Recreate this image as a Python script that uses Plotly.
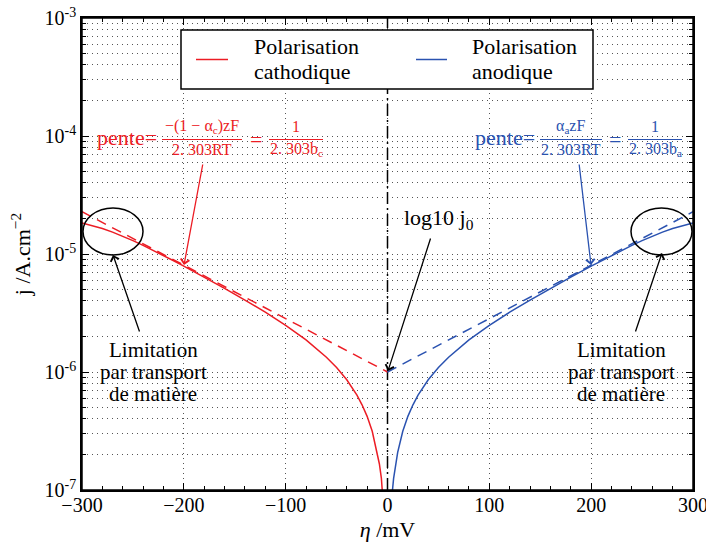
import plotly.graph_objects as go

# ---------------- data ----------------
eta_cath = [-300, -290, -280, -270, -260, -250, -240, -230, -220, -210, -200,
            -180, -160, -140, -120, -100, -80, -60, -50, -40, -30, -25, -20,
            -15, -10, -8, -6, -4, -2]
j_cath = [1.834e-5, 1.746e-5, 1.644e-5, 1.532e-5, 1.415e-5, 1.297e-5, 1.182e-5,
          1.073e-5, 9.71e-6, 8.76e-6, 7.89e-6, 6.37e-6, 5.11e-6, 4.07e-6, 3.21e-6,
          2.486e-6, 1.869e-6, 1.335e-6, 1.0915e-6, 8.59e-7, 6.367e-7, 5.274e-7,
          4.208e-7, 3.143e-7, 2.085e-7, 1.670e-7, 1.253e-7, 8.34e-8, 4.17e-8]

eta_anod = [2, 4, 6, 8, 10, 15, 20, 25, 30, 40, 50, 60, 80, 100, 120, 140, 160,
            180, 200, 210, 220, 230, 240, 250, 260, 270, 280, 290, 300]
j_anod = [4.17e-8, 8.34e-8, 1.253e-7, 1.670e-7, 2.085e-7, 3.143e-7, 4.208e-7,
          5.274e-7, 6.367e-7, 8.59e-7, 1.0915e-6, 1.335e-6, 1.869e-6, 2.486e-6,
          3.21e-6, 4.07e-6, 5.11e-6, 6.37e-6, 7.89e-6, 8.76e-6, 9.71e-6, 1.073e-5,
          1.182e-5, 1.297e-5, 1.415e-5, 1.532e-5, 1.644e-5, 1.746e-5, 1.834e-5]

eta_tafel_c = [-300, 0]
j_tafel_c = [2.28e-5, 1.0e-6]
eta_tafel_a = [0, 300]
j_tafel_a = [1.0e-6, 2.28e-5]

eta_j0 = [0, 0]
j_j0_line = [1e-7, 1e-3]

legend_names = ["Polarisation", "cathodique", "Polarisation", "anodique"]

x_ticks = [-300, -200, -100, 0, 100, 200, 300]
x_ticktext = ["\u2212300", "\u2212200", "\u2212100", "0", "100", "200", "300"]
y_ticks = [1e-7, 1e-6, 1e-5, 1e-4, 1e-3]
y_ticktext = ["10<sup>-7</sup>", "10<sup>-6</sup>", "10<sup>-5</sup>",
              "10<sup>-4</sup>", "10<sup>-3</sup>"]
y_minor = [m * 10.0 ** e for e in range(-7, -3) for m in range(2, 10)]

# ---------------- style ----------------
RED = "#ec1c24"
BLUE = "#2a52b0"
FONT = "Liberation Serif, DejaVu Serif, serif"
GRID = "#555555"
GRIDDASH = "1px,4px"
W, H = 706, 542
L, R, T, B = 82, 13, 18, 52
PW, PH = W - L - R, H - T - B


def px(x):
    return (x - L) / PW


def py(y):
    return 1 - (y - T) / PH


fig = go.Figure()
fig.add_trace(go.Scatter(x=eta_j0, y=j_j0_line, mode="lines", showlegend=False,
                         line=dict(color="black", width=1.5, dash="12px,4px,2px,4px")))
fig.add_trace(go.Scatter(x=eta_tafel_c, y=j_tafel_c, mode="lines", showlegend=False,
                         line=dict(color=RED, width=1.5, dash="10px,7px")))
fig.add_trace(go.Scatter(x=eta_tafel_a, y=j_tafel_a, mode="lines", showlegend=False,
                         line=dict(color=BLUE, width=1.5, dash="10px,7px")))
fig.add_trace(go.Scatter(x=eta_cath, y=j_cath, mode="lines", showlegend=False,
                         name=" ".join(legend_names[:2]),
                         line=dict(color=RED, width=1.5)))
fig.add_trace(go.Scatter(x=eta_anod, y=j_anod, mode="lines", showlegend=False,
                         name=" ".join(legend_names[2:]),
                         line=dict(color=BLUE, width=1.5)))

shapes = []
annotations = []


def text(x, y, s, size=22, color="black", xanchor="center"):
    annotations.append(dict(x=px(x), y=py(y), xref="paper", yref="paper", text=s,
                            showarrow=False, xanchor=xanchor, yanchor="middle",
                            font=dict(family=FONT, size=size, color=color)))


def white_rect(x0, y0, x1, y1, layer="between", border=0):
    shapes.append(dict(type="rect", xref="paper", yref="paper", x0=px(x0), x1=px(x1),
                       y0=py(y1), y1=py(y0), fillcolor="white",
                       line=dict(width=border, color="black"), layer=layer))


def hbar(x0, x1, y, color, width=1):
    shapes.append(dict(type="line", xref="paper", yref="paper", x0=px(x0), x1=px(x1),
                       y0=py(y), y1=py(y), line=dict(color=color, width=width)))


def arrow(hx, hy, tx, ty, color):
    annotations.append(dict(x=px(hx), y=py(hy), xref="paper", yref="paper", text="",
                            showarrow=True, ax=tx - hx, ay=ty - hy, axref="pixel",
                            ayref="pixel", arrowhead=4, arrowsize=1.3, arrowwidth=1.3,
                            arrowcolor=color, standoff=0, startstandoff=0))


# plot frame
shapes.append(dict(type="rect", xref="paper", yref="paper", x0=0, x1=1, y0=0, y1=1,
                   line=dict(color="black", width=1.5), fillcolor="rgba(0,0,0,0)",
                   layer="above"))

# legend box (drawn by hand to match line spacing)
white_rect(181, 30, 593, 89, layer="above", border=1.5)
hbar(196, 228, 59.5, RED, 1.5)
hbar(416, 447, 59.5, BLUE, 1.5)
text(252, 47, legend_names[0], 22, xanchor="left")
text(252, 71, legend_names[1], 22, xanchor="left")
text(470, 47, legend_names[2], 22, xanchor="left")
text(470, 71, legend_names[3], 22, xanchor="left")

# red slope formula
white_rect(90, 117, 326, 159)
text(127, 137, "pente=", 22, RED)
text(202, 127, "\u2212(1 \u2212 \u03b1<sub>c</sub>)zF", 16, RED)
hbar(162, 242, 139.5, RED)
text(202, 149, "2. 303RT", 16, RED)
text(256, 139, "=", 22, RED)
text(296, 127, "1", 16, RED)
hbar(269, 323, 139.5, RED)
text(296, 149, "2. 303b<sub>c</sub>", 16, RED)

# blue slope formula
white_rect(468, 117, 684, 159)
text(505, 137, "pente=", 22, BLUE)
text(570, 127, "\u03b1<sub>a</sub>zF", 16, BLUE)
hbar(540, 602, 139.5, BLUE)
text(571, 149, "2. 303RT", 16, BLUE)
text(615, 139, "=", 22, BLUE)
text(655, 127, "1", 16, BLUE)
hbar(628, 682, 139.5, BLUE)
text(655, 149, "2. 303b<sub>a</sub>", 16, BLUE)

# log10 j0
white_rect(393, 204, 478, 236)
text(439, 219, "log10 j<sub>0</sub>", 22)

# Limitation texts
white_rect(83, 336, 224, 410)
white_rect(548, 336, 692, 410)
for cx in (153, 621):
    text(cx, 350, "Limitation", 21)
    text(cx, 372, "par transport", 21)
    text(cx, 394, "de matière", 21)

# ellipses
for x0, x1 in ((83, 143), (631, 692)):
    shapes.append(dict(type="circle", xref="paper", yref="paper", x0=px(x0), x1=px(x1),
                       y0=py(255), y1=py(208), line=dict(color="black", width=1.5)))

# arrows
arrow(184, 265, 203, 163, RED)
arrow(591, 265, 579, 163, BLUE)
arrow(388, 371, 431, 237, "black")
arrow(113, 255, 140, 333, "black")
arrow(662, 253, 635, 333, "black")

axis_common = dict(showline=True, linecolor="black", linewidth=1.5, mirror="allticks",
                   ticks="inside", ticklen=7, tickcolor="black", tickwidth=1,
                   showgrid=True, gridcolor=GRID, gridwidth=1, griddash=GRIDDASH,
                   zeroline=False, ticklabeloverflow="allow",
                   tickfont=dict(family=FONT, size=20, color="black"))

fig.update_layout(
    width=W, height=H,
    margin=dict(l=L, r=R, t=T, b=B, autoexpand=False),
    paper_bgcolor="white", plot_bgcolor="white",
    font=dict(family=FONT, size=20, color="black"),
    showlegend=False,
    xaxis=dict(range=[-300, 300], tickvals=x_ticks, ticktext=x_ticktext,
               ticklabelstandoff=-4,
               minor=dict(dtick=20, tick0=0, ticks="inside", ticklen=4,
                          tickcolor="black", showgrid=False),
               title=dict(text="<i>\u03b7</i> /mV", font=dict(family=FONT, size=22),
                          standoff=8),
               **axis_common),
    yaxis=dict(type="log", range=[-7, -3], tickvals=y_ticks, ticktext=y_ticktext,
               minor=dict(tickvals=y_minor, ticks="inside", ticklen=4,
                          tickcolor="black", showgrid=True, gridcolor=GRID,
                          gridwidth=1, griddash=GRIDDASH),
               title=dict(text="j /A.cm<sup>\u22122</sup>", font=dict(family=FONT, size=22),
                          standoff=8),
               **axis_common),
    shapes=shapes,
    annotations=annotations,
)

fig.write_html("out.html", config={"displayModeBar": False},
               post_script="document.body.style.margin='0px';document.body.style.overflow='hidden';")
